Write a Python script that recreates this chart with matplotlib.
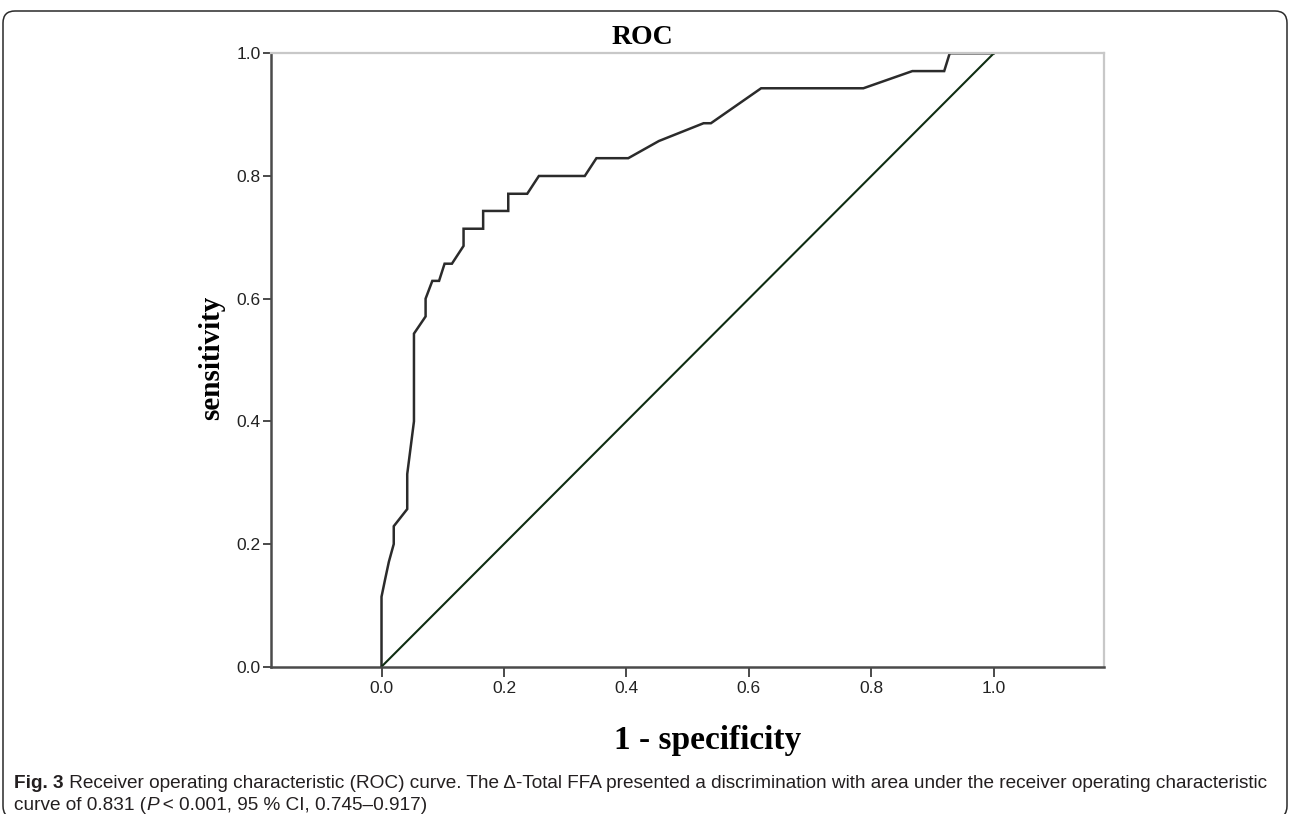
import matplotlib
matplotlib.use("Agg")
import matplotlib.pyplot as plt
from matplotlib.patches import FancyBboxPatch
from matplotlib.transforms import IdentityTransform

###  Data
fpr = [0.0, 0.0, 0.006, 0.012, 0.020, 0.020, 0.042, 0.042, 0.053, 0.053,
       0.072, 0.072, 0.083, 0.094, 0.103, 0.115, 0.134, 0.134, 0.166, 0.166,
       0.207, 0.207, 0.238, 0.257, 0.332, 0.351, 0.403, 0.453, 0.526, 0.538,
       0.620, 0.787, 0.867, 0.919, 0.928, 1.0]
tpr = [0.0, 0.114, 0.143, 0.171, 0.200, 0.229, 0.257, 0.314, 0.400, 0.543,
       0.571, 0.600, 0.629, 0.629, 0.657, 0.657, 0.686, 0.714, 0.714, 0.743,
       0.743, 0.771, 0.771, 0.800, 0.800, 0.829, 0.829, 0.857, 0.886, 0.886,
       0.943, 0.943, 0.971, 0.971, 1.0, 1.0]
ref_x = [0.0, 1.0]
ref_y = [0.0, 1.0]

x_ticks = [0.0, 0.2, 0.4, 0.6, 0.8, 1.0]
y_ticks = [0.0, 0.2, 0.4, 0.6, 0.8, 1.0]
tick_labels = ["0.0", "0.2", "0.4", "0.6", "0.8", "1.0"]

title = "ROC"
xlabel = "1 - specificity"
ylabel = "sensitivity"
cap_line1 = [("Fig. 3", "bold", "normal"),
             (" Receiver operating characteristic (ROC) curve. The \u0394-Total FFA presented a "
              "discrimination with area under the receiver operating characteristic", "normal", "normal")]
cap_line2 = [("curve of 0.831 (", "normal", "normal"),
             ("P", "normal", "italic"),
             ("\u2009< 0.001, 95 % CI, 0.745\u20130.917)", "normal", "normal")]

W, H = 1290, 814
fig = plt.figure(figsize=(W / 100, H / 100), dpi=100)
fig.patch.set_facecolor("white")

# outer rounded frame
frame = FancyBboxPatch((3, -4), 1284, 807, boxstyle="round,pad=0,rounding_size=12",
                       transform=IdentityTransform(), facecolor="none",
                       edgecolor="#2a2a2a", lw=1.1)
fig.patches.append(frame)

ax = fig.add_axes([271.3 / W, 1 - 666.7 / H, (1104 - 271.3) / W, (666.7 - 53.3) / H])
ax.plot(fpr, tpr, color="#2b2b2b", lw=1.8, solid_joinstyle="miter")
ax.plot(ref_x, ref_y, color="#0f2d12", lw=1.5)
ax.set_xlim(-0.18, 1.18)
ax.set_ylim(0, 1)
ax.set_xticks(x_ticks)
ax.set_xticklabels(tick_labels, family="Liberation Sans", fontsize=12.5, color="#222222")
ax.set_yticks(y_ticks)
ax.set_yticklabels(tick_labels, family="Liberation Sans", fontsize=12.5, color="#222222")
ax.tick_params(axis="x", direction="out", length=7, width=1.4, color="#4a4a4a", pad=3.5)
ax.tick_params(axis="y", direction="out", length=6, width=1.4, color="#4a4a4a", pad=1.5)
for s in ["left", "bottom"]:
    ax.spines[s].set_color("#4a4a4a")
    ax.spines[s].set_linewidth(1.8)
for s in ["top", "right"]:
    ax.spines[s].set_color("#c8c8c8")
    ax.spines[s].set_linewidth(1.6)

fig.text(642 / W, 1 - 37 / H, title, family="Liberation Serif", weight="bold",
         fontsize=20, ha="center", va="center")
fig.text(212 / W, 1 - 358 / H, ylabel, family="Liberation Serif", weight="bold",
         fontsize=21, rotation=90, ha="center", va="center")
fig.text(708 / W, 1 - 741 / H, xlabel, family="Liberation Serif", weight="bold",
         fontsize=24, ha="center", va="center")

# caption, placed piece by piece
renderer = fig.canvas.get_renderer()
cap_family = ["Liberation Sans Narrow", "Liberation Sans", "DejaVu Sans"]


def place_line(pieces, x0, y, size):
    x = x0
    items = []
    for txt, wt, st in pieces:
        t = fig.text(x / W, y / H, txt, family=cap_family, weight=wt, style=st,
                     fontsize=size, color="#231f20", va="center", ha="left")
        bb = t.get_window_extent(renderer)
        x = bb.x1
        items.append(t)
    return items, x - x0


items, width = place_line(cap_line1, 14, H - 783, 12)
for t in items:
    t.remove()
size = 12 * 1261 / width
place_line(cap_line1, 14, H - 783, size)
place_line(cap_line2, 14, H - 805, size)

fig.savefig("out.png", dpi=100, facecolor="white")
